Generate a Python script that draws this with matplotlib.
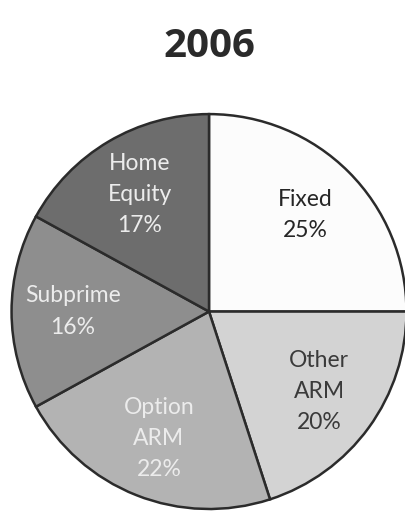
import matplotlib
matplotlib.use("Agg")
import matplotlib.pyplot as plt

# Loan mix shares for 2006 (percent)
categories = ["Fixed", "Other\nARM", "Option\nARM", "Subprime", "Home\nEquity"]
shares = [25, 20, 22, 16, 17]
wedge_colors = ["#fcfcfc", "#d3d3d3", "#b3b3b3", "#8e8e8e", "#6d6d6d"]
text_colors = ["#262626", "#3a3a3a", "#ececec", "#ececec", "#ececec"]

fig = plt.figure(figsize=(4.06, 5.12), dpi=100)
fig.patch.set_facecolor("white")

fig.text(0.515, 0.910, "2006", ha="center", va="center",
         fontsize=29, fontweight="bold", family="Open Sans", color="#2a2a2a")

ax = fig.add_axes([0.0222, 0.002, 0.9852, 0.779])
labels = [f"{c}\n{s}%" for c, s in zip(categories, shares)]
wedges, texts = ax.pie(shares, labels=labels, colors=wedge_colors,
                       startangle=90, counterclock=False, radius=1.0,
                       labeldistance=0.69,
                       wedgeprops=dict(edgecolor="#2b2b2b", linewidth=1.8))
for t, c in zip(texts, text_colors):
    t.set_color(c)
    t.set_ha("center")
    t.set_va("center")
    t.set_fontsize(16.5)
    t.set_family("Lato")
    t.set_linespacing(1.6)

ax.set_xlim(-1.01, 1.01)
ax.set_ylim(-1.01, 1.01)
ax.set_aspect("equal")
ax.axis("off")

fig.savefig("out.png", dpi=100, facecolor="white")
